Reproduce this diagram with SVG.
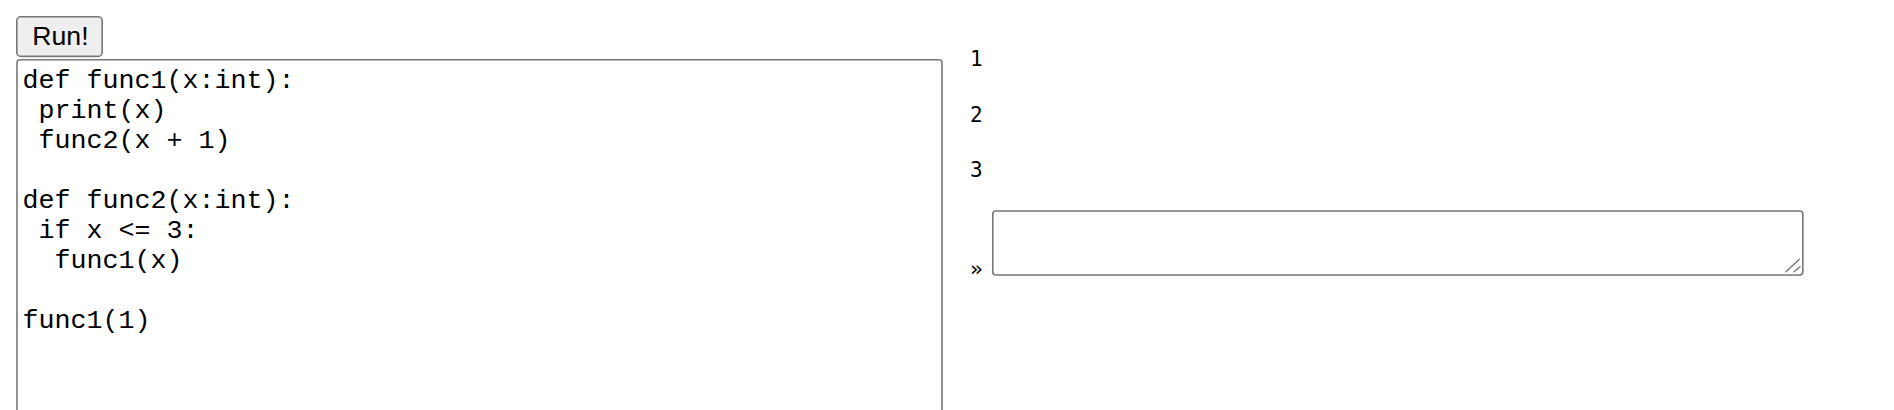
<svg xmlns="http://www.w3.org/2000/svg" width="1894" height="410" viewBox="0 0 1894 410">
<style>
.box{fill:#ffffff;stroke:#767676;stroke-width:1.6}
.code{font-family:"Courier New","Liberation Mono",monospace;font-size:26.67px;fill:#000;white-space:pre}
.out{font-family:"DejaVu Sans Mono",monospace;font-size:21px;fill:#000}
.grip{stroke:#767676;stroke-width:1.4;stroke-linecap:round}
</style>
<rect x="0" y="0" width="1894" height="410" fill="#ffffff"/>
<g id="run-button">
<rect x="16.8" y="16.8" width="85.4" height="39.6" rx="4" fill="#efefef" stroke="#767676" stroke-width="1.6"/>
<text x="32.3" y="45" font-family="'Liberation Sans',Arial,sans-serif" font-size="26.67" fill="#000">Run!</text>
</g>
<g id="code-editor">
<rect class="box" x="17" y="59.8" width="925" height="380" rx="3"/>
<text class="code" xml:space="preserve"><tspan x="22.5" y="88.3">def func1(x:int):</tspan><tspan x="22.5" y="118.3"> print(x)</tspan><tspan x="22.5" y="148.3"> func2(x + 1)</tspan><tspan x="22.5" y="208.3">def func2(x:int):</tspan><tspan x="22.5" y="238.3"> if x &lt;= 3:</tspan><tspan x="22.5" y="268.3">  func1(x)</tspan><tspan x="22.5" y="328.3">func1(1)</tspan></text>
</g>
<g id="output">
<text class="out" x="970" y="65.7">1</text>
<text class="out" x="970" y="121.7">2</text>
<text class="out" x="970" y="177.3">3</text>
<text class="out" x="970" y="276">»</text>
</g>
<g id="input-box">
<rect class="box" x="992.8" y="211" width="810" height="64" rx="3"/>
<line class="grip" x1="1786" y1="271.7" x2="1799.3" y2="259.3"/>
<line class="grip" x1="1794" y1="271.7" x2="1800" y2="266.7"/>
</g>
<g id="connectors"></g>
</svg>
